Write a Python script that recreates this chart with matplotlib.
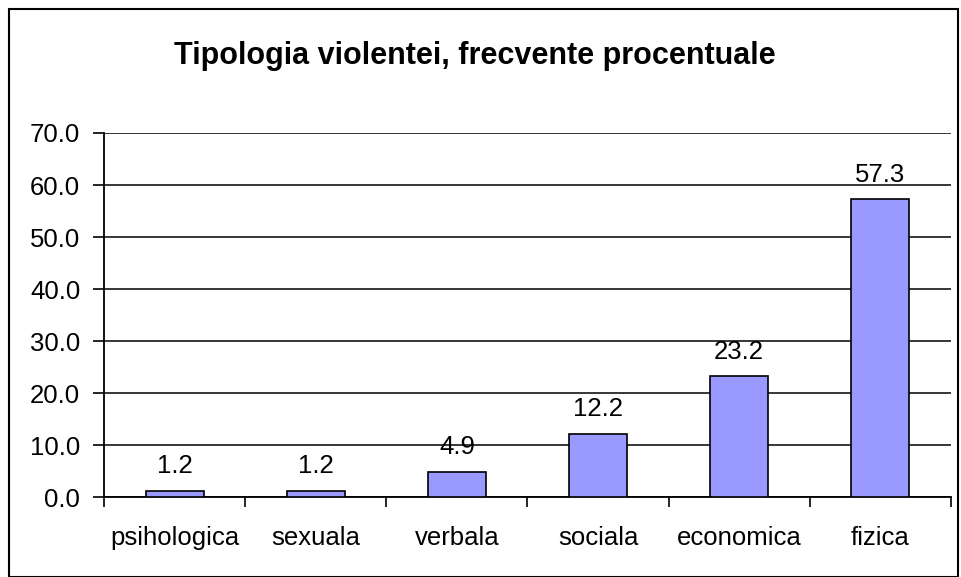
import matplotlib.pyplot as plt
import numpy as np
from matplotlib.patches import Rectangle

categories = ['psihologica', 'sexuala', 'verbala', 'sociala', 'economica', 'fizica']
values = [1.2, 1.2, 4.9, 12.2, 23.2, 57.3]
yticks = [0, 10, 20, 30, 40, 50, 60, 70]

plt.rcParams['font.family'] = ['Liberation Sans', 'DejaVu Sans']
FS = 18.5

fig = plt.figure(figsize=[9.61, 5.77], dpi=100)
ax = fig.add_axes([0.1082, 0.1386, 0.8814, 0.6309])

x = np.arange(len(categories))
ax.bar(x, values, width=0.41, color='#9999ff', edgecolor='black', linewidth=1.2, zorder=3)
for xi, v in zip(x, values):
    ax.annotate(f'{v:.1f}', (xi, v), xytext=(0, 9), textcoords='offset points',
                ha='center', va='bottom', fontsize=FS)

ax.set_xlim(-0.5, len(categories) - 0.5)
ax.set_ylim(0, 70)
ax.set_yticks(yticks)
ax.set_yticklabels([f'{t:.1f}' for t in yticks], fontsize=FS)
ax.yaxis.grid(True, color='black', linewidth=1.1, zorder=0)
ax.set_axisbelow(True)

ax.set_xticks(x)
ax.set_xticklabels(categories, fontsize=FS)
ax.tick_params(axis='x', which='major', length=0, pad=21)
ax.set_xticks(np.arange(len(categories) + 1) - 0.5, minor=True)
ax.tick_params(axis='x', which='minor', length=7, width=1.2, direction='out')
ax.tick_params(axis='y', length=8, width=1.2, direction='out', pad=9)

for s in ['top', 'right']:
    ax.spines[s].set_visible(False)
for s in ['left', 'bottom']:
    ax.spines[s].set_linewidth(1.3)

fig.text(0.494, 0.903, 'Tipologia violentei, frecvente procentuale', ha='center', va='center',
         fontsize=22, fontweight='bold')

fig.patches.append(Rectangle((9 / 961, 0), 949 / 961, 568 / 577, transform=fig.transFigure,
                             fill=False, edgecolor='black', linewidth=1.5))

fig.savefig('out.png', dpi=100)
